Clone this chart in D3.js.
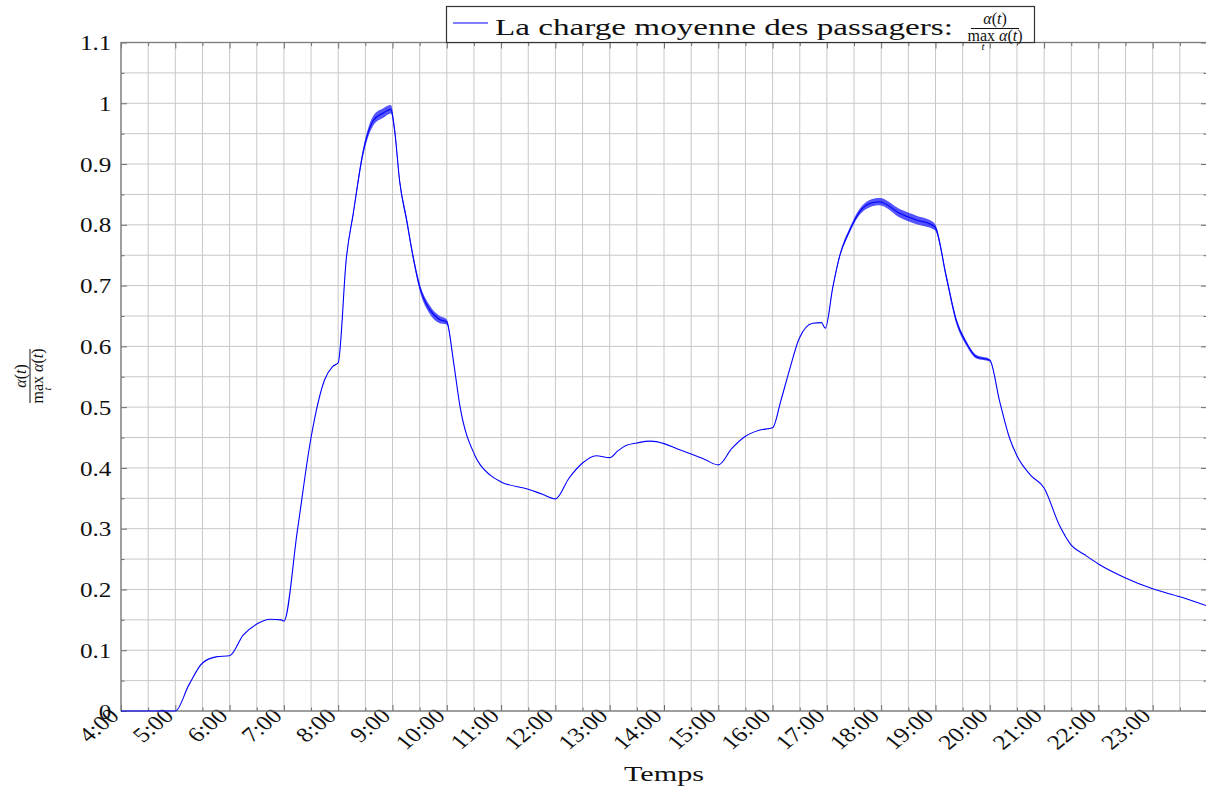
<!DOCTYPE html>
<html>
<head>
<meta charset="utf-8">
<script src="https://cdn.jsdelivr.net/npm/d3@7"></script>
<style>
  body { margin: 0; background: #fff; }
  svg text { font-family: "Liberation Serif", "DejaVu Serif", serif; fill: #111; }
</style>
</head>
<body>
<div id="chart"></div>
<script>
// time of day in hours, mean passenger load (normalised), and half width of the fast oscillation band
var hours = [4.0, 5.0, 5.25, 5.5, 5.75, 6.0, 6.25, 6.5, 6.75, 6.95,
  7.0, 7.25, 7.5, 7.75, 7.9, 8.0, 8.15, 8.28, 8.46, 8.65,
  8.83, 8.97, 9.04, 9.13, 9.26, 9.38, 9.5, 9.69, 9.85, 10.0,
  10.12, 10.24, 10.52, 10.8, 11.0, 11.5, 11.75, 12.0, 12.25, 12.5,
  12.75, 13.0, 13.15, 13.3, 13.5, 13.75, 14.0, 14.25, 14.5, 14.75,
  15.0, 15.25, 15.5, 15.75, 16.0, 16.15, 16.31, 16.49, 16.74, 16.9,
  16.97, 17.11, 17.23, 17.42, 17.6, 17.79, 17.97, 18.34, 18.65, 18.95,
  19.0, 19.2, 19.38, 19.57, 19.75, 20.0, 20.18, 20.36, 20.5, 20.75,
  21.0, 21.28, 21.5, 21.75, 22.0, 22.5, 23.0, 23.5, 24.0];
var charge = [0, 0, 0.043, 0.079, 0.089, 0.091, 0.125, 0.143, 0.151, 0.150,
  0.148, 0.298, 0.45, 0.545, 0.567, 0.573, 0.745, 0.82, 0.92, 0.972,
  0.984, 0.99, 0.955, 0.873, 0.808, 0.747, 0.698, 0.66, 0.645, 0.64,
  0.577, 0.503, 0.42, 0.388, 0.377, 0.365, 0.357, 0.349, 0.383, 0.408,
  0.42, 0.417, 0.428, 0.437, 0.441, 0.444, 0.44, 0.431, 0.423, 0.414,
  0.405, 0.432, 0.452, 0.462, 0.466, 0.51, 0.561, 0.613, 0.638, 0.639,
  0.63, 0.698, 0.747, 0.791, 0.821, 0.835, 0.838, 0.819, 0.808, 0.799,
  0.795, 0.714, 0.643, 0.605, 0.583, 0.577, 0.51, 0.45, 0.42, 0.388,
  0.367, 0.306, 0.273, 0.257, 0.242, 0.219, 0.201, 0.188, 0.173];
var spread = [0, 0, 0, 0, 0, 0, 0, 0, 0, 0,
  0, 0, 0, 0, 0, 0, 0.002, 0.004, 0.006, 0.008,
  0.008, 0.007, 0.006, 0.005, 0.005, 0.005, 0.006, 0.007, 0.006, 0.004,
  0, 0, 0, 0, 0, 0, 0, 0, 0, 0,
  0, 0, 0, 0, 0, 0, 0, 0, 0, 0,
  0, 0, 0, 0, 0, 0, 0, 0, 0, 0,
  0, 0.002, 0.003, 0.004, 0.005, 0.006, 0.006, 0.007, 0.007, 0.006,
  0.005, 0.005, 0.005, 0.004, 0.003, 0.002, 0, 0, 0, 0,
  0, 0, 0, 0, 0, 0, 0, 0, 0];

var xMajor = d3.range(4, 24, 1);          // hour ticks 4:00 .. 23:00
var xMinor = d3.range(4.5, 24, 1);
var yMajor = d3.range(0, 12, 1).map(d => d / 10);
var yMinor = d3.range(0, 11, 1).map(d => d / 10 + 0.05);

var svgwidth = 1206, svgheight = 787;
var plotLeft = 121, plotRight = 1207, plotTop = 42.5, plotBottom = 711;

var data = hours.map((h, i) => ({h: h, v: charge[i], s: spread[i]}));

var x = d3.scaleLinear().domain([4, 24]).range([plotLeft, plotRight]);
var y = d3.scaleLinear().domain([0, 1.1]).range([plotBottom, plotTop]);

var svg = d3.select("#chart").append("svg")
    .attr("width", svgwidth)
    .attr("height", svgheight);

// grid
svg.append("g")
    .selectAll("line")
    .data(xMajor.concat(xMinor))
  .enter().append("line")
    .attr("x1", d => x(d)).attr("x2", d => x(d))
    .attr("y1", plotTop).attr("y2", plotBottom)
    .style("stroke", "#c8c8c8").style("stroke-width", 1);

svg.append("g")
    .selectAll("line")
    .data(yMajor.concat(yMinor))
  .enter().append("line")
    .attr("y1", d => y(d)).attr("y2", d => y(d))
    .attr("x1", plotLeft).attr("x2", plotRight)
    .style("stroke", "#c8c8c8").style("stroke-width", 1);

// axes, ticks pointing inward like pgfplots
var xAxis = d3.axisBottom(x).tickValues(xMajor).tickSizeInner(-6).tickSizeOuter(0)
    .tickFormat(d => d + ":00");
var xAxisTop = d3.axisTop(x).tickValues(xMajor).tickSizeInner(-6).tickSizeOuter(0).tickFormat("");
var yAxis = d3.axisLeft(y).tickValues(yMajor).tickSizeInner(-6).tickSizeOuter(0)
    .tickFormat(d => d === 0 ? "0" : Math.abs(d - 1) < 1e-9 ? "1" : d3.format(".1f")(d));
var yAxisRight = d3.axisRight(y).tickValues(yMajor).tickSizeInner(-6).tickSizeOuter(0).tickFormat("");

var xMinorB = d3.axisBottom(x).tickValues(xMinor).tickSizeInner(-3.5).tickSizeOuter(0).tickFormat("");
var xMinorT = d3.axisTop(x).tickValues(xMinor).tickSizeInner(-3.5).tickSizeOuter(0).tickFormat("");
var yMinorL = d3.axisLeft(y).tickValues(yMinor).tickSizeInner(-3.5).tickSizeOuter(0).tickFormat("");
var yMinorR = d3.axisRight(y).tickValues(yMinor).tickSizeInner(-3.5).tickSizeOuter(0).tickFormat("");

function styleAxis(g) {
    g.select(".domain").remove();
    g.selectAll(".tick line").style("stroke", "#6e6e6e").style("stroke-width", 1);
}

svg.append("g").attr("transform", "translate(0," + plotBottom + ")").call(xMinorB).call(styleAxis);
svg.append("g").attr("transform", "translate(0," + plotTop + ")").call(xMinorT).call(styleAxis);
svg.append("g").attr("transform", "translate(" + plotLeft + ",0)").call(yMinorL).call(styleAxis);
svg.append("g").attr("transform", "translate(" + plotRight + ",0)").call(yMinorR).call(styleAxis);
svg.append("g").attr("transform", "translate(0," + plotTop + ")").call(xAxisTop).call(styleAxis);
svg.append("g").attr("transform", "translate(" + plotRight + ",0)").call(yAxisRight).call(styleAxis);

svg.append("g")
    .attr("class", "x axis")
    .attr("transform", "translate(0," + plotBottom + ")")
    .call(xAxis)
    .call(styleAxis)
  .selectAll("text")
    .attr("x", null).attr("y", null).attr("dy", null)
    .style("text-anchor", "end")
    .style("font-size", "21px")
    .attr("transform", "translate(-1,6) scale(1.2,1) rotate(-45)");

svg.append("g")
    .attr("class", "y axis")
    .attr("transform", "translate(" + plotLeft + ",0)")
    .call(yAxis)
    .call(styleAxis)
  .selectAll("text")
    .attr("x", -8).attr("dy", "0.34em")
    .style("font-size", "21px")
    .attr("transform", "scale(1.2,1)");

// frame
svg.append("rect")
    .attr("x", plotLeft).attr("y", plotTop)
    .attr("width", plotRight - plotLeft).attr("height", plotBottom - plotTop)
    .style("fill", "none").style("stroke", "#7a7a7a").style("stroke-width", 1.3);

// oscillation band + line
var band = d3.area()
    .curve(d3.curveMonotoneX)
    .x(d => x(d.h))
    .y0(d => y(d.v - d.s))
    .y1(d => y(d.v + d.s));

svg.append("path")
    .datum(data)
    .attr("d", band)
    .style("fill", "#1a1aff")
    .style("opacity", 0.75);

var line = d3.line()
    .curve(d3.curveMonotoneX)
    .x(d => x(d.h))
    .y(d => y(d.v));

svg.append("path")
    .datum(data)
    .attr("d", line)
    .style("fill", "none")
    .style("stroke", "#0000ff")
    .style("stroke-width", 1.1);

// x label
svg.append("text")
    .attr("x", 664).attr("y", 781)
    .style("text-anchor", "middle")
    .style("font-size", "22px")
    .attr("textLength", 80).attr("lengthAdjust", "spacingAndGlyphs")
    .text("Temps");

// y label: alpha(t) / max_t alpha(t)
var ylab = svg.append("g").attr("transform", "translate(30,376) rotate(-90)");
ylab.append("line")
    .attr("x1", -27).attr("x2", 27).attr("y1", 0).attr("y2", 0)
    .style("stroke", "#111").style("stroke-width", 1);
ylab.append("text")
    .attr("x", 0).attr("y", -4)
    .style("text-anchor", "middle").style("font-size", "16px")
    .html("<tspan font-style='italic'>α</tspan>(<tspan font-style='italic'>t</tspan>)");
ylab.append("text")
    .attr("x", 0).attr("y", 13)
    .style("text-anchor", "middle").style("font-size", "16px")
    .html("max <tspan font-style='italic'>α</tspan>(<tspan font-style='italic'>t</tspan>)");
ylab.append("text")
    .attr("x", -13).attr("y", 21)
    .style("text-anchor", "middle").style("font-size", "11px").style("font-style", "italic")
    .text("t");

// legend
var legend = svg.append("g");
legend.append("rect")
    .attr("x", 446.5).attr("y", 6.5)
    .attr("width", 588).attr("height", 36)
    .style("fill", "#fff").style("stroke", "#333").style("stroke-width", 1.2);
legend.append("line")
    .attr("x1", 453).attr("x2", 488).attr("y1", 23).attr("y2", 23)
    .style("stroke", "#0000ff").style("stroke-width", 1.1);
legend.append("text")
    .attr("x", 495).attr("y", 35)
    .style("font-size", "23px")
    .attr("textLength", 458).attr("lengthAdjust", "spacingAndGlyphs")
    .text("La charge moyenne des passagers:");
legend.append("line")
    .attr("x1", 971).attr("x2", 1019).attr("y1", 28.5).attr("y2", 28.5)
    .style("stroke", "#111").style("stroke-width", 1);
legend.append("text")
    .attr("x", 995).attr("y", 24)
    .style("text-anchor", "middle").style("font-size", "16px")
    .html("<tspan font-style='italic'>α</tspan>(<tspan font-style='italic'>t</tspan>)");
legend.append("text")
    .attr("x", 995).attr("y", 41)
    .style("text-anchor", "middle").style("font-size", "16px")
    .html("max <tspan font-style='italic'>α</tspan>(<tspan font-style='italic'>t</tspan>)");
legend.append("text")
    .attr("x", 983).attr("y", 50)
    .style("text-anchor", "middle").style("font-size", "11px").style("font-style", "italic")
    .text("t");
</script>
</body>
</html>
